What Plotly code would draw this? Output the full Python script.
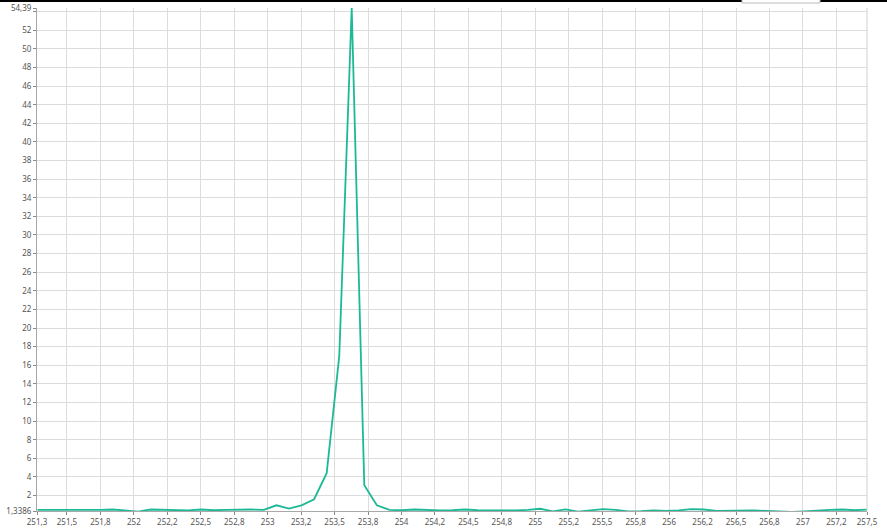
import plotly.graph_objects as go

x_vals = [251.280, 251.374, 251.468, 251.562, 251.656, 251.750, 251.844, 251.938,
          252.032, 252.125, 252.219, 252.313, 252.407, 252.501, 252.595, 252.689,
          252.783, 252.877, 252.971, 253.065, 253.159, 253.253, 253.347, 253.441,
          253.535, 253.628, 253.722, 253.816, 253.910, 254.004, 254.098, 254.192,
          254.286, 254.380, 254.474, 254.568, 254.662, 254.756, 254.850, 254.944,
          255.037, 255.131, 255.225, 255.319, 255.413, 255.507, 255.601, 255.695,
          255.789, 255.883, 255.977, 256.071, 256.165, 256.259, 256.353, 256.447,
          256.541, 256.635, 256.729, 256.823, 256.917, 257.011, 257.105, 257.198,
          257.292, 257.386, 257.480]
y_vals = [0.45, 0.45, 0.40, 0.38, 0.40, 0.45, 0.50, 0.35,
          0.28, 0.50, 0.45, 0.42, 0.40, 0.50, 0.42, 0.45,
          0.48, 0.50, 0.45, 0.95, 0.60, 0.95, 1.60, 4.40,
          17.0, 54.39, 3.10, 0.95, 0.45, 0.42, 0.50, 0.42,
          0.40, 0.42, 0.50, 0.42, 0.40, 0.38, 0.40, 0.45,
          0.58, 0.30, 0.52, 0.27, 0.45, 0.55, 0.45, 0.30,
          0.32, 0.40, 0.35, 0.40, 0.55, 0.50, 0.36, 0.38,
          0.40, 0.40, 0.35, 0.30, 0.24, 0.30, 0.34, 0.45,
          0.50, 0.42, 0.49]

x_range = [251.276, 257.479]
y_range = [0.3386, 54.39]

x_tickvals = [251.276, 251.5, 251.75, 252.0, 252.25, 252.5, 252.75, 253.0, 253.25,
              253.5, 253.75, 254.0, 254.25, 254.5, 254.75, 255.0, 255.25, 255.5,
              255.75, 256.0, 256.25, 256.5, 256.75, 257.0, 257.25, 257.479]
x_ticktext = ["251,3", "251,5", "251,8", "252", "252,2", "252,5", "252,8", "253", "253,2",
              "253,5", "253,8", "254", "254,2", "254,5", "254,8", "255", "255,2", "255,5",
              "255,8", "256", "256,2", "256,5", "256,8", "257", "257,2", "257,5"]

y_tickvals = [0.3386, 2, 4, 6, 8, 10, 12, 14, 16, 18, 20, 22, 24, 26, 28, 30, 32, 34,
              36, 38, 40, 42, 44, 46, 48, 50, 52, 54, 54.39]
y_ticktext = ["1,3386", "2", "4", "6", "8", "10", "12", "14", "16", "18", "20", "22", "24",
              "26", "28", "30", "32", "34", "36", "38", "40", "42", "44", "46", "48", "50",
              "52", "", "54,39"]

fig = go.Figure()
fig.add_trace(go.Scatter(x=x_vals, y=y_vals, mode="lines",
                         line=dict(color="#1db996", width=1.8), showlegend=False))

W, H = 887, 529
L, R, T, B = 37, 20, 8, 18
pw, ph = W - L - R, H - T - B

axis_common = dict(showgrid=True, gridcolor="#dcdcdc", gridwidth=1,
                   showline=True, linecolor="#a8a8a8", linewidth=1,
                   ticks="outside", ticklen=3, tickcolor="#888888",
                   tickfont=dict(family="Noto Sans", size=8, color="#555555"),
                   zeroline=False, fixedrange=True)

fig.update_xaxes(range=x_range, tickmode="array", tickvals=x_tickvals,
                 ticktext=x_ticktext, mirror=False, **axis_common)
fig.update_yaxes(range=y_range, tickmode="array", tickvals=y_tickvals,
                 ticktext=y_ticktext, **axis_common)

shapes = [
    dict(type="line", xref="paper", yref="paper", x0=-L / pw, x1=1 + R / pw,
         y0=1 + (T - 1) / ph, y1=1 + (T - 1) / ph, line=dict(color="black", width=2)),
    dict(type="line", xref="paper", yref="paper", x0=1, x1=1, y0=0, y1=1,
         line=dict(color="#d0d0d0", width=1)),
    dict(type="rect", xref="paper", yref="paper", x0=(742 - L) / pw, x1=(820 - L) / pw,
         y0=1 + (T - 3) / ph, y1=1 + (T + 2) / ph, line=dict(color="#bbbbbb", width=1),
         fillcolor="white"),
]

fig.update_layout(width=W, height=H, margin=dict(l=L, r=R, t=T, b=B, autoexpand=False),
                  paper_bgcolor="white", plot_bgcolor="white", shapes=shapes)

fig.write_html("out.html", config={"displayModeBar": False})
